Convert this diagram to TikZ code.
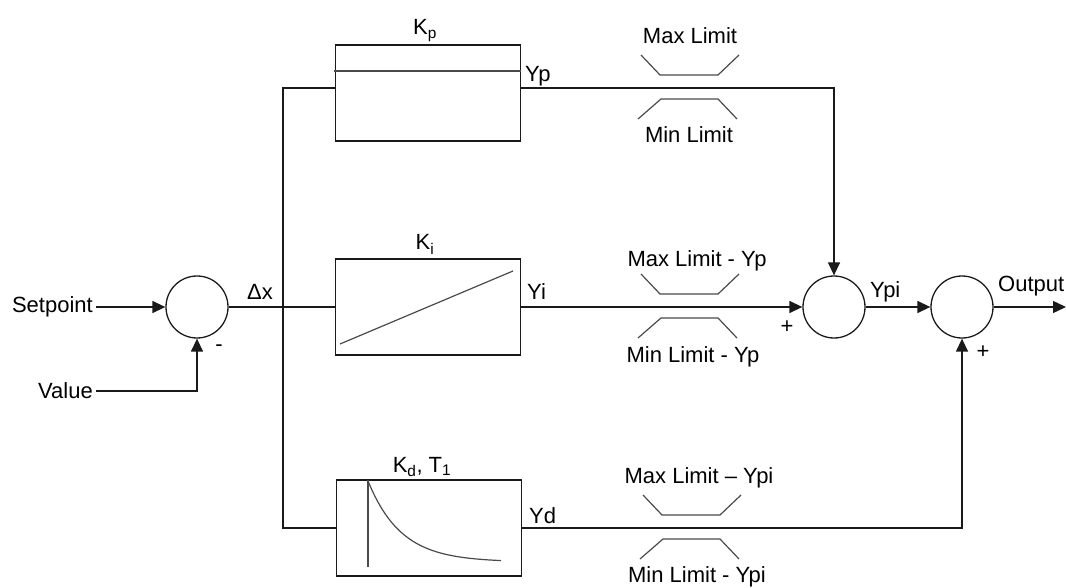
\documentclass[tikz,border=0pt]{standalone}
\usepackage{fontspec}
\setmainfont{Liberation Sans}
\usetikzlibrary{arrows.meta}
\definecolor{PidInk}{HTML}{1A1A1A}
\definecolor{PidGrey}{HTML}{4A4A4A}
\definecolor{PidPaper}{HTML}{FFFFFF}

\tikzset{
  blk/.style={draw=PidInk,line width=1.4pt,minimum width=185pt,minimum height=96pt,inner sep=0pt},
  sumnode/.style={draw=PidInk,circle,line width=1.3pt,minimum size=62pt,inner sep=0pt},
  wire/.style={draw=PidInk,line width=1.4pt},
  feed/.style={wire,-{Triangle[length=13pt,width=12pt]}},
  limitline/.style={draw=PidGrey,line width=1.2pt},
  lbl/.style={font=\fontsize{22}{24}\selectfont,inner sep=0pt},
}

\begin{document}
\begin{tikzpicture}[x=1pt,y=-1pt]
        \useasboundingbox[fill=PidPaper] (0,0) rectangle (1066,588);

        % summing points and blocks
        \node[sumnode] (sum1) at (197,307) {};
        \node[sumnode] (sum2) at (834,307) {};
        \node[sumnode] (sum3) at (962,307) {};
        \node[blk] (kp) at (428,93) {};
        \node[blk] (ki) at (428,307) {};
        \node[blk] (kd) at (429,528) {};

        % inputs
        \node[lbl,anchor=east] (setpoint) at (93,307) {Setpoint};
        \node[lbl,anchor=east] (value) at (93,391) {Value};
        \draw[feed] (setpoint.east) ++(3,0) -- (sum1.west);
        \draw[feed] (value.east) ++(3,0) -| (sum1.south);
        \node[lbl] (minus) at (219,348) {-};
        \node[lbl,anchor=base west] (dx) at (247,299) {Δx};

        % branches
        \coordinate (jp) at (283,88);
        \coordinate (jd) at (283,528);
        \draw[wire] (sum1.east) -- (ki.west);
        \draw[wire] (jp -| kp.west) -- (jp) -- (jd) -- (kd.west);

        \draw[feed] (jp -| kp.east) -| (sum2.north);
        \draw[feed] (ki.east) -- (sum2.west);
        \draw[feed] (sum2.east) -- (sum3.west);
        \coordinate (out) at (1066,307);
        \draw[feed] (sum3.east) -- (out);
        \draw[feed] (kd.east) -| (sum3.south);

        % block contents
        \draw[limitline] (334,71) -- (521,71);
        \draw[limitline] (340,344) -- (513,271);
        \draw[limitline] (368,480) -- (368,567);
        \draw[limitline] plot[domain=368:501,samples=40] (\x,{562-81*exp(-(\x-368)/33)});

        % limits
        \foreach \yy/\dd in {88/0,307/0,528/2}{
          \draw[limitline] (641+\dd,\yy-33) -- (660+\dd,\yy-13) -- (718+\dd,\yy-13) -- (739+\dd,\yy-33);
          \draw[limitline] (638+\dd,\yy+31) -- (661+\dd,\yy+11) -- (718+\dd,\yy+11) -- (737+\dd,\yy+31);
        }

        % labels
        \node[lbl,anchor=base] (kplbl) at (425,35) {K\textsubscript{p}};
        \node[lbl,anchor=base] (kilbl) at (425,250) {K\textsubscript{i}};
        \node[lbl,anchor=base] (kdlbl) at (422,472) {K\textsubscript{d}, T\textsubscript{1}};
        \node[lbl,anchor=base west] (yp) at (525,82) {Yp};
        \node[lbl,anchor=base west] (yi) at (527,299) {Yi};
        \node[lbl,anchor=base west] (yd) at (529,523) {Yd};
        \node[lbl,anchor=base west] (ypi) at (870,298) {Ypi};
        \node[lbl,anchor=base west] (output) at (998,291) {Output};
        \node[lbl] (plus2) at (787,327) {+};
        \node[lbl] (plus3) at (983,352) {+};

        \node[lbl,anchor=base] (maxp) at (690,44) {Max Limit};
        \node[lbl,anchor=base] (minp) at (689,143) {Min Limit};
        \node[lbl,anchor=base] (maxi) at (697,267) {Max Limit - Yp};
        \node[lbl,anchor=base] (mini) at (693,362) {Min Limit - Yp};
        \node[lbl,anchor=base] (maxd) at (699,483) {Max Limit – Ypi};
        \node[lbl,anchor=base] (mind) at (697,582) {Min Limit - Ypi};
      \end{tikzpicture}
\end{document}
